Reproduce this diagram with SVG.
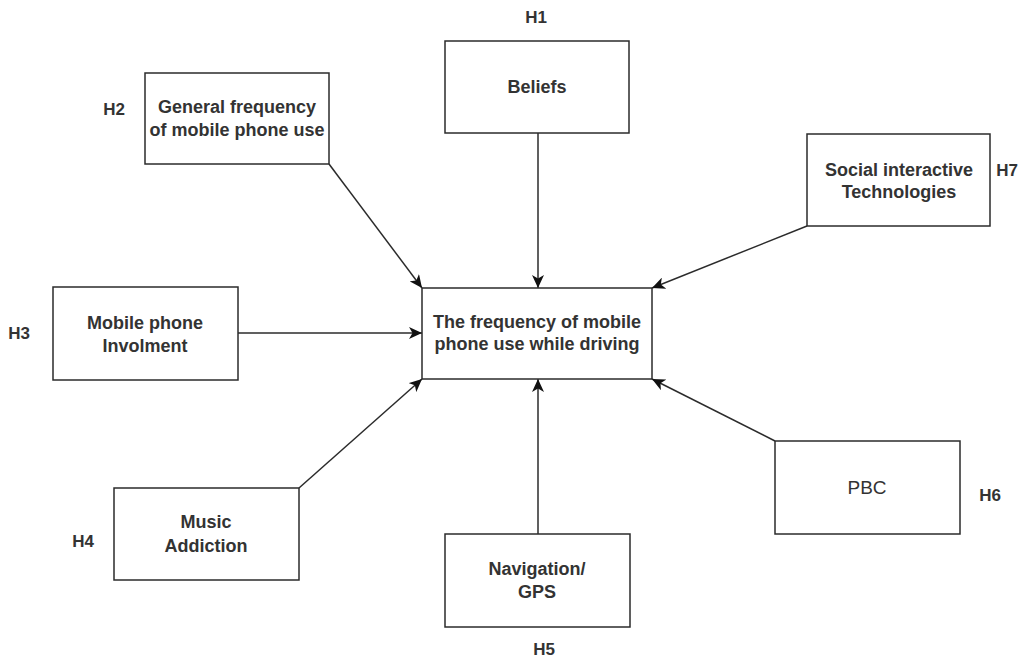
<svg xmlns="http://www.w3.org/2000/svg" width="1034" height="657" viewBox="0 0 1034 657">
<style>
.box{fill:#fff;stroke:#2b2b2b;stroke-width:1.5}
.t{font-family:"Liberation Sans",Arial,sans-serif;font-size:18px;font-weight:bold;fill:#333;text-anchor:middle}
.r{font-weight:normal;font-size:19px}
.h{font-family:"Liberation Sans",Arial,sans-serif;font-size:17px;font-weight:bold;fill:#333;text-anchor:middle}
.c{fill:none;stroke:#2b2b2b;stroke-width:1.5;marker-end:url(#arr)}
</style>
<defs>
<marker id="arr" markerUnits="userSpaceOnUse" markerWidth="14" markerHeight="12" viewBox="0 0 14 12" refX="13" refY="6" orient="auto">
<path d="M0,0 L13,6 L0,12 L3.5,6 Z" fill="#111"/>
</marker>
</defs>
<rect width="1034" height="657" fill="#fff"/>
<g id="connectors">
<line class="c" x1="329" y1="164" x2="422" y2="288"/>
<line class="c" x1="538" y1="133" x2="538" y2="288"/>
<line class="c" x1="807" y1="226" x2="652" y2="288"/>
<line class="c" x1="238" y1="333" x2="422" y2="333"/>
<line class="c" x1="299" y1="488" x2="422" y2="379"/>
<line class="c" x1="538" y1="534" x2="538" y2="379"/>
<line class="c" x1="775" y1="441" x2="652" y2="379"/>
</g>
<g id="center">
<rect class="box" x="422" y="288" width="230" height="91"/>
<text class="t" x="537" y="328">The frequency of mobile</text>
<text class="t" x="537" y="350">phone use while driving</text>
</g>
<g id="beliefs">
<rect class="box" x="445" y="41" width="184" height="92"/>
<text class="t" x="537" y="93">Beliefs</text>
<text class="h" x="536" y="23">H1</text>
</g>
<g id="general">
<rect class="box" x="145" y="73" width="184" height="91"/>
<text class="t" x="237" y="113">General frequency</text>
<text class="t" x="237" y="136">of mobile phone use</text>
<text class="h" x="114" y="115">H2</text>
</g>
<g id="involvement">
<rect class="box" x="53" y="287" width="185" height="93"/>
<text class="t" x="145" y="329">Mobile phone</text>
<text class="t" x="145" y="352">Involment</text>
<text class="h" x="19" y="339">H3</text>
</g>
<g id="music">
<rect class="box" x="114" y="488" width="185" height="92"/>
<text class="t" x="206" y="528">Music</text>
<text class="t" x="206" y="552">Addiction</text>
<text class="h" x="83" y="547">H4</text>
</g>
<g id="navigation">
<rect class="box" x="445" y="534" width="185" height="93"/>
<text class="t" x="537" y="575">Navigation/</text>
<text class="t" x="537" y="598">GPS</text>
<text class="h" x="544" y="655">H5</text>
</g>
<g id="pbc">
<rect class="box" x="775" y="441" width="185" height="93"/>
<text class="t r" x="867" y="494">PBC</text>
<text class="h" x="990" y="501">H6</text>
</g>
<g id="social">
<rect class="box" x="807" y="134" width="183" height="92"/>
<text class="t" x="899" y="176">Social interactive</text>
<text class="t" x="899" y="198">Technologies</text>
<text class="h" x="1007" y="176">H7</text>
</g>
</svg>
